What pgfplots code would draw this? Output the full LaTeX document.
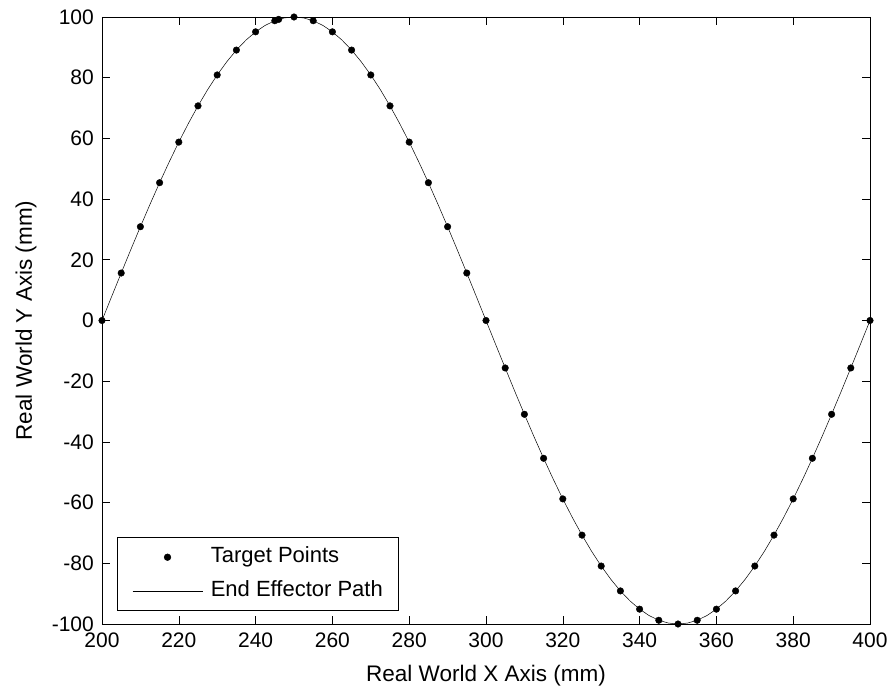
\documentclass[border=0pt]{standalone}
\usepackage{pgfplots}
\pgfplotsset{compat=1.18}
\usepackage{fontspec}
\setmainfont{Liberation Sans}

% Target points sampled along the sine path (x in mm, y in mm)
\pgfplotstableread{
x y
200 0
205 15.64
210 30.90
215 45.40
220 58.78
225 70.71
230 80.90
235 89.10
240 95.11
245 98.77
246 99.21
250 100
255 98.77
260 95.11
265 89.10
270 80.90
275 70.71
280 58.78
285 45.40
290 30.90
295 15.64
300 0
305 -15.64
310 -30.90
315 -45.40
320 -58.78
325 -70.71
330 -80.90
335 -89.10
340 -95.11
345 -98.77
350 -100
355 -98.77
360 -95.11
365 -89.10
370 -80.90
375 -70.71
380 -58.78
385 -45.40
390 -30.90
395 -15.64
400 0
}\targets

% Path followed by the end effector
\pgfplotstableread{
x y
200 0
202.5 7.85
205 15.64
207.5 23.35
210 30.90
212.5 38.27
215 45.40
217.5 52.25
220 58.78
222.5 64.94
225 70.71
227.5 76.04
230 80.90
232.5 85.26
235 89.10
237.5 92.39
240 95.11
242.5 97.24
245 98.77
247.5 99.69
250 100
252.5 99.69
255 98.77
257.5 97.24
260 95.11
262.5 92.39
265 89.10
267.5 85.26
270 80.90
272.5 76.04
275 70.71
277.5 64.94
280 58.78
282.5 52.25
285 45.40
287.5 38.27
290 30.90
292.5 23.35
295 15.64
297.5 7.85
300 0
302.5 -7.85
305 -15.64
307.5 -23.35
310 -30.90
312.5 -38.27
315 -45.40
317.5 -52.25
320 -58.78
322.5 -64.94
325 -70.71
327.5 -76.04
330 -80.90
332.5 -85.26
335 -89.10
337.5 -92.39
340 -95.11
342.5 -97.24
345 -98.77
347.5 -99.69
350 -100
352.5 -99.69
355 -98.77
357.5 -97.24
360 -95.11
362.5 -92.39
365 -89.10
367.5 -85.26
370 -80.90
372.5 -76.04
375 -70.71
377.5 -64.94
380 -58.78
382.5 -52.25
385 -45.40
387.5 -38.27
390 -30.90
392.5 -23.35
395 -15.64
397.5 -7.85
400 0
}\effpath

\begin{document}
\begin{tikzpicture}
\begin{axis}[
  scale only axis,
  width=768bp, height=607bp,
  xmin=200, xmax=400, ymin=-100, ymax=100,
  xtick={200,220,...,400},
  ytick={-100,-80,...,100},
  tick align=inside,
  major tick length=8bp,
  tick style={black, line width=0.6pt},
  axis line style={black, line width=0.8pt},
  clip mode=individual,
  /pgf/number format/assume math mode=true,
  ticklabel style={font=\fontsize{21bp}{25bp}\selectfont},
  xticklabel style={inner sep=0pt, yshift=-9bp},
  yticklabel style={inner sep=0pt, xshift=-8bp},
  label style={font=\fontsize{22.5bp}{26bp}\selectfont},
  xlabel={Real World X Axis (mm)},
  ylabel={Real World Y Axis (mm)},
  xlabel style={at={(axis description cs:0.5,0)}, anchor=base, yshift=-57bp},
  ylabel style={at={(axis description cs:0,0.5)}, anchor=base, yshift=70bp},
  legend cell align=left,
  legend style={
    at={(0.0195,0.0214)}, anchor=south west,
    draw=black, line width=0.6pt, fill=white,
    font=\fontsize{22bp}{26bp}\selectfont,
    nodes={inner sep=0pt, text height=16bp, text depth=5bp},
    inner xsep=15bp, inner ysep=9bp,
    row sep=13bp,
    /tikz/every odd column/.append style={column sep=8bp},
  },
]
% target points
\addlegendimage{legend image code/.code={
    \path[draw=none] (0bp,0bp) -- (70bp,0bp);
    \fill[black] (35bp,0bp) circle (3.3bp);}}
\addlegendentry{Target Points}
% end effector path
\addlegendimage{legend image code/.code={
    \draw[black, line width=0.5pt] (0bp,0bp) -- (70bp,0bp);}}
\addlegendentry{End Effector Path}
\addplot[only marks, mark=*, mark size=3.3bp, black, forget plot]
  table {\targets};
\addplot[black, line width=0.5pt, no marks, forget plot] table {\effpath};
\end{axis}
% page frame around the axis box
\path ([xshift=-102bp,yshift=-68bp]current axis.south west)
  rectangle ([xshift=25bp,yshift=17bp]current axis.north east);
\end{tikzpicture}
\end{document}
